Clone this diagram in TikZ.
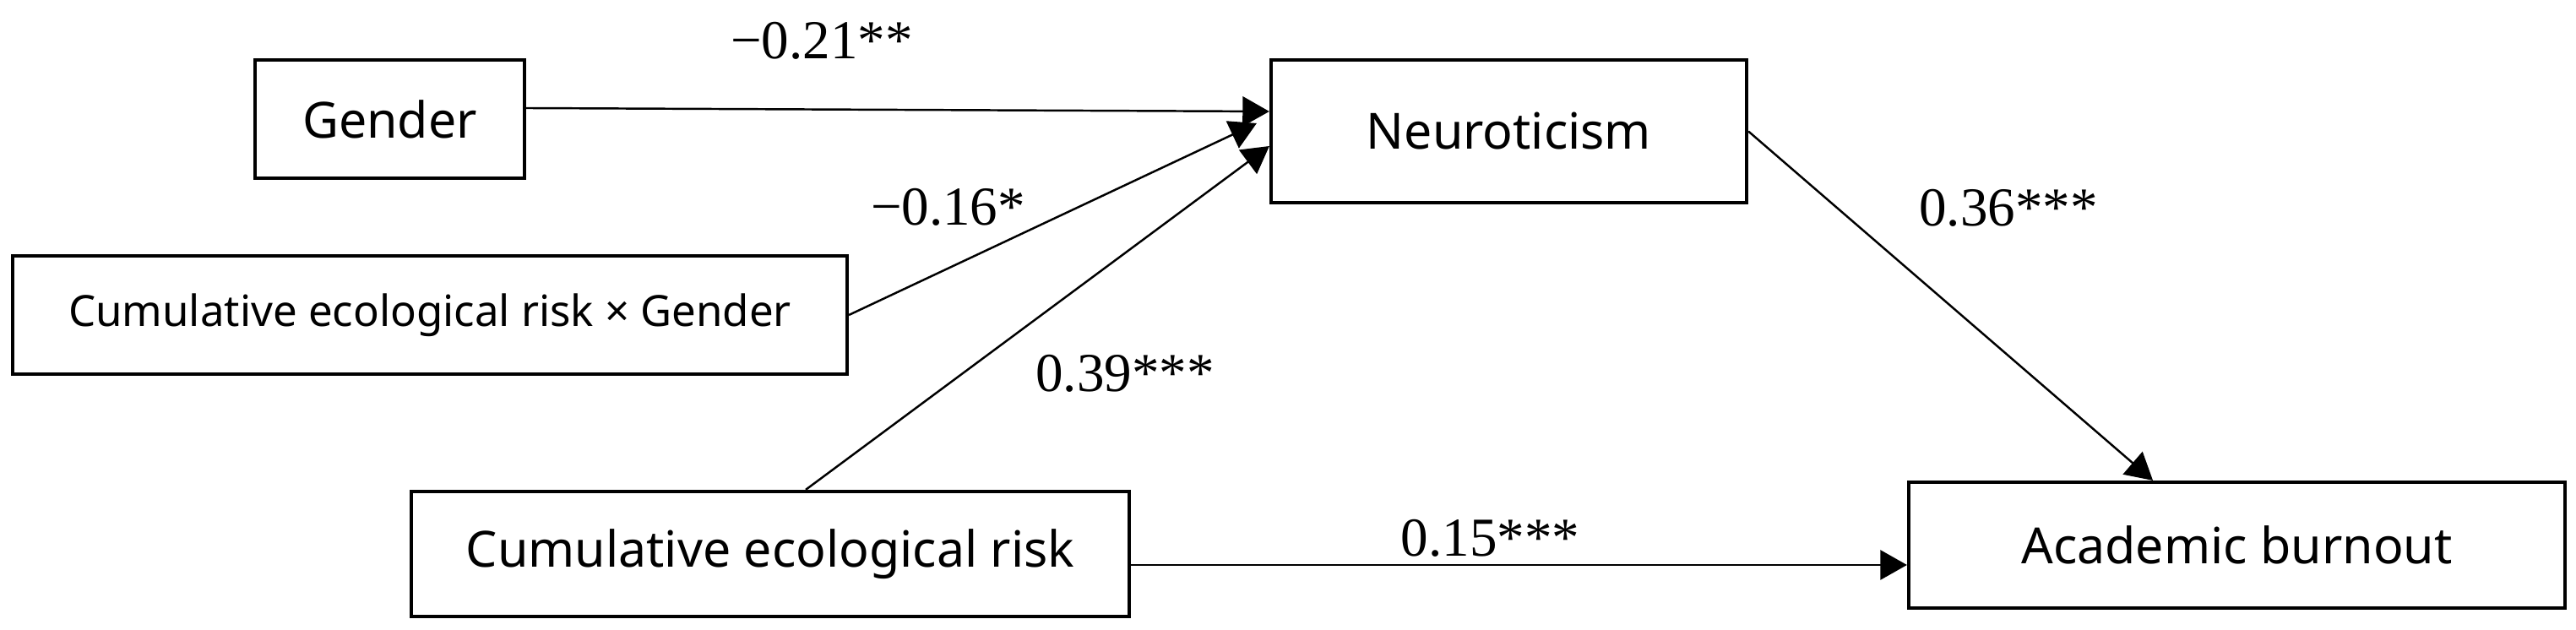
\documentclass[tikz,border=0pt]{standalone}
\usepackage{fontspec}
\setmainfont{Liberation Serif}
\newfontfamily\boxfont{Noto Sans}
\usepackage{tikz}
\usetikzlibrary{arrows.meta}

\begin{document}
\begin{tikzpicture}[
  varbox/.style={draw,line width=1.2pt,inner sep=0pt,font=\boxfont\fontsize{16.8}{20}\selectfont},
  effect/.style={line width=0.7pt,-{Triangle[length=9pt,width=10pt]}},
  coef/.style={inner sep=0pt,font=\fontsize{18.5}{22}\selectfont}]
  \useasboundingbox (0,0) rectangle (30.5,-7.46);
  % variables
  \node[varbox,minimum width=3.19cm,minimum height=1.40cm] (gender) at (4.615,-1.41) {Gender};
  \node[varbox,minimum width=9.88cm,minimum height=1.40cm,font=\boxfont\fontsize{14.5}{17}\selectfont] (inter) at (5.09,-3.73) {Cumulative ecological risk × Gender};
  \node[varbox,minimum width=5.63cm,minimum height=1.69cm] (neuro) at (17.865,-1.555) {Neuroticism};
  \node[varbox,minimum width=8.50cm,minimum height=1.48cm] (risk) at (9.12,-6.56) {Cumulative ecological risk};
  \node[varbox,minimum width=7.77cm,minimum height=1.49cm] (burnout) at (26.485,-6.455) {Academic burnout};
  % paths
  \draw[effect] ([yshift=0.13cm]gender.east) -- ([yshift=0.235cm]neuro.west);
  \draw[effect] (inter.east) -- ([xshift=-0.15cm,yshift=0.095cm]neuro.west);
  \draw[effect] ([xshift=0.42cm]risk.north) -- ([yshift=-0.175cm]neuro.west);
  \draw[effect] (neuro.east) -- ([xshift=-0.995cm]burnout.north);
  \draw[effect] ([yshift=-0.13cm]risk.east) -- ([yshift=-0.235cm]burnout.west);
  % coefficients
  \node[coef] (c21) at (9.73,-0.485) {−0.21**};
  \node[coef] (c16) at (11.225,-2.45) {−0.16*};
  \node[coef] (c39) at (13.32,-4.42) {0.39***};
  \node[coef] (c36) at (23.78,-2.46) {0.36***};
  \node[coef] (c15) at (17.645,-6.375) {0.15***};
\end{tikzpicture}
\end{document}
